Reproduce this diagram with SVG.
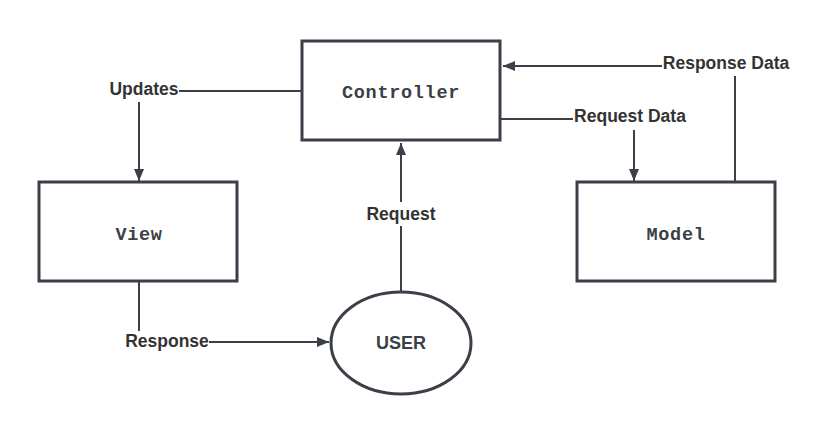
<svg xmlns="http://www.w3.org/2000/svg" width="830" height="434" viewBox="0 0 830 434">
<defs>
<style>
.box{fill:#fff;stroke:#3a3f48;stroke-width:3}
.node{font-family:"Liberation Mono",monospace;font-weight:bold;font-size:18.5px;fill:#3a3f48;letter-spacing:0.7px}
.user{font-family:"Liberation Sans",Arial,sans-serif;font-weight:bold;font-size:18px;fill:#3a3f48}
.lbl{font-family:"Liberation Sans",Arial,sans-serif;font-weight:bold;font-size:17.5px;fill:#333}
.ln{fill:none;stroke:#3a3f48;stroke-width:2}
</style>
<marker id="ah" viewBox="0 0 12 10" refX="12" refY="5" markerWidth="12" markerHeight="10" markerUnits="userSpaceOnUse" orient="auto">
<path d="M0,0 L12,5 L0,10 Z" fill="#3a3f48"/>
</marker>
</defs>
<rect width="830" height="434" fill="#fff"/>
<g id="connectors">
<path class="ln" d="M301,91 H179"/>
<path class="ln" d="M139,102 V181" marker-end="url(#ah)"/>
<path class="ln" d="M735,181 V76"/>
<path class="ln" d="M662,66 H503" marker-end="url(#ah)"/>
<path class="ln" d="M501,119 H573"/>
<path class="ln" d="M634,130 V181" marker-end="url(#ah)"/>
<path class="ln" d="M401,291 V226"/>
<path class="ln" d="M401,202 V143" marker-end="url(#ah)"/>
<path class="ln" d="M139,282 V331"/>
<path class="ln" d="M209,342 H329" marker-end="url(#ah)"/>
<text class="lbl" x="144" y="95" text-anchor="middle">Updates</text>
<text class="lbl" x="726" y="69" text-anchor="middle">Response Data</text>
<text class="lbl" x="630" y="122" text-anchor="middle">Request Data</text>
<text class="lbl" x="401" y="220" text-anchor="middle">Request</text>
<text class="lbl" x="167" y="347" text-anchor="middle">Response</text>
</g>
<g id="controller">
<rect class="box" x="302" y="41" width="198" height="99"/>
<text class="node" x="401" y="98" text-anchor="middle">Controller</text>
</g>
<g id="view">
<rect class="box" x="39" y="182" width="198" height="99"/>
<text class="node" x="139" y="240" text-anchor="middle">View</text>
</g>
<g id="model">
<rect class="box" x="577" y="182" width="198" height="99"/>
<text class="node" x="676" y="240" text-anchor="middle">Model</text>
</g>
<g id="user">
<ellipse class="box" cx="401" cy="343" rx="70" ry="51"/>
<text class="user" x="401" y="349" text-anchor="middle">USER</text>
</g>
</svg>
